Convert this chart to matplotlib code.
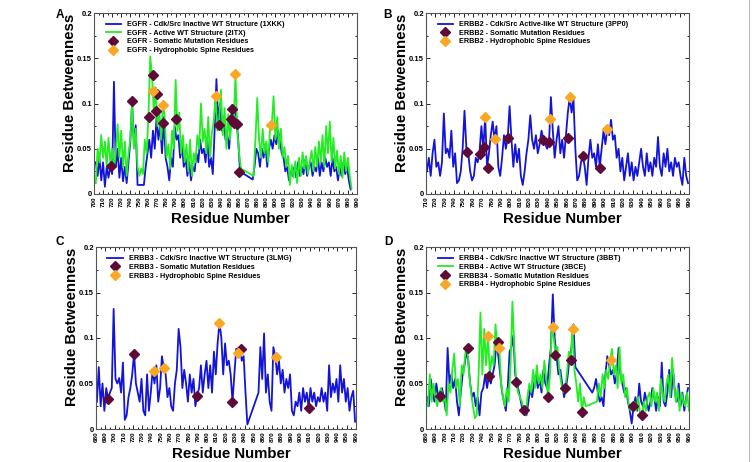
import numpy as np
import matplotlib
matplotlib.use("Agg")
import matplotlib.pyplot as plt
from matplotlib.lines import Line2D
from matplotlib.ticker import MultipleLocator, FixedLocator

plt.rcParams['font.family'] = ['Liberation Sans', 'DejaVu Sans']

# ---------------- Panel A : EGFR ----------------
a_blue_res = np.r_[np.arange(702, 749, 2), np.arange(755, 862, 2), np.arange(875, 984, 2)]
a_blue_val = [
    0.035, 0.02, 0.04, 0.015, 0.035, 0.008, 0.03, 0.018, 0.031, 0.022,
    0.124, 0.03, 0.05, 0.018, 0.04, 0.014, 0.03, 0.012, 0.035, 0.058,
    0.1, 0.055, 0.076, 0.01,
    0.01, 0.03, 0.045, 0.06, 0.04, 0.07, 0.05, 0.085, 0.06, 0.075,
    0.045, 0.085, 0.04, 0.03, 0.015, 0.04, 0.03, 0.075, 0.06, 0.065,
    0.04, 0.055, 0.03, 0.04, 0.02, 0.035, 0.015, 0.03, 0.025, 0.045,
    0.035, 0.06, 0.045, 0.05, 0.035, 0.06, 0.03, 0.04, 0.022, 0.07,
    0.127, 0.08, 0.1, 0.07, 0.085, 0.06, 0.065, 0.05, 0.08, 0.09,
    0.095, 0.085, 0.06, 0.025,
    0.016, 0.03, 0.05, 0.045, 0.03, 0.05, 0.04, 0.055, 0.03, 0.05,
    0.06, 0.05, 0.065, 0.055, 0.07, 0.06, 0.045, 0.04, 0.025, 0.03,
    0.015, 0.025, 0.02, 0.03, 0.018, 0.035, 0.02, 0.03, 0.022, 0.038,
    0.02, 0.03, 0.035, 0.02, 0.03, 0.025, 0.04, 0.02, 0.035, 0.025,
    0.04, 0.03, 0.035, 0.02, 0.04, 0.025, 0.03, 0.015, 0.03, 0.02,
    0.035, 0.022, 0.03, 0.015, 0.005]
a_green_res = np.r_[np.arange(702, 863, 2), np.arange(876, 985, 2)]
a_green_val = [
    0.012, 0.05, 0.035, 0.065, 0.04, 0.058, 0.03, 0.062, 0.035, 0.05,
    0.028, 0.045, 0.077, 0.04, 0.07, 0.03, 0.058, 0.02, 0.045, 0.06,
    0.103, 0.05, 0.072, 0.03, 0.02, 0.028, 0.022, 0.06, 0.045, 0.085,
    0.152, 0.13, 0.09, 0.118, 0.075, 0.092, 0.06, 0.1, 0.085, 0.04,
    0.055, 0.028, 0.07, 0.05, 0.126, 0.07, 0.09, 0.045, 0.065, 0.035,
    0.055, 0.025, 0.06, 0.02, 0.045, 0.035, 0.065, 0.05, 0.1, 0.058,
    0.072, 0.045, 0.085, 0.04, 0.068, 0.08, 0.108, 0.07, 0.082, 0.115,
    0.065, 0.095, 0.05, 0.088, 0.06, 0.098, 0.075, 0.133, 0.07, 0.045,
    0.028,
    0.02, 0.06, 0.106, 0.06, 0.04, 0.072, 0.045, 0.058, 0.035, 0.07,
    0.076, 0.108, 0.06, 0.085, 0.05, 0.072, 0.04, 0.052, 0.03, 0.042,
    0.01, 0.032, 0.018, 0.036, 0.012, 0.04, 0.02, 0.046, 0.028, 0.042,
    0.022, 0.036, 0.048, 0.025, 0.052, 0.03, 0.058, 0.035, 0.065, 0.03,
    0.075, 0.045, 0.08, 0.035, 0.062, 0.028, 0.048, 0.022, 0.042, 0.018,
    0.046, 0.025, 0.04, 0.02, 0.006]
a_mut_res = [719, 742, 761, 765, 768, 769, 776, 790, 838, 851, 852, 854, 858, 860]
a_mut_val = [0.031, 0.103, 0.085, 0.131, 0.092, 0.111, 0.078, 0.083, 0.076, 0.083,
             0.094, 0.079, 0.077, 0.024]
a_spine_res = [765.5, 776.5, 834.6, 855.5, 895.6]
a_spine_val = [0.114, 0.098, 0.108, 0.133, 0.076]

# ---------------- Panel B : ERBB2 ----------------
b_blue_res = np.arange(711, 990, 2)
b_blue_val = [
    0.025, 0.04, 0.02, 0.045, 0.06, 0.03, 0.035, 0.02, 0.035, 0.089,
    0.045, 0.05, 0.04, 0.07, 0.03, 0.045, 0.012, 0.015, 0.025, 0.05,
    0.092, 0.05, 0.045, 0.025, 0.015, 0.02, 0.04, 0.035, 0.047, 0.075,
    0.05, 0.085, 0.03, 0.045, 0.065, 0.08, 0.06, 0.075, 0.03, 0.02,
    0.04, 0.065, 0.05, 0.062, 0.097, 0.06, 0.03, 0.055, 0.035, 0.05,
    0.02, 0.01, 0.025, 0.045, 0.06, 0.087, 0.06, 0.05, 0.065, 0.045,
    0.055, 0.07, 0.06, 0.055, 0.05, 0.058, 0.107, 0.07, 0.04, 0.06,
    0.075, 0.045, 0.06, 0.04, 0.065, 0.09, 0.107, 0.09, 0.105, 0.05,
    0.015, 0.02, 0.035, 0.042, 0.03, 0.01, 0.04, 0.06, 0.04, 0.045,
    0.03, 0.055, 0.03, 0.05, 0.07, 0.055, 0.072, 0.065, 0.082, 0.06,
    0.065, 0.04, 0.05, 0.025, 0.04, 0.015, 0.03, 0.045, 0.02, 0.035,
    0.015, 0.03, 0.02, 0.035, 0.05, 0.03, 0.02, 0.045, 0.025, 0.035,
    0.02, 0.04, 0.03, 0.063, 0.03, 0.02, 0.045, 0.03, 0.05, 0.025,
    0.035, 0.02, 0.04, 0.03, 0.035, 0.02, 0.01, 0.04, 0.02, 0.012]
b_mut_res = [754, 767.6, 772, 776.2, 796.8, 834.2, 841.3, 860.9, 877.2, 895]
b_mut_val = [0.0465, 0.0447, 0.0524, 0.0284, 0.0624, 0.0598, 0.057, 0.0616, 0.042, 0.029]
b_spine_res = [773, 783.6, 842, 863, 902.8]
b_spine_val = [0.0856, 0.0605, 0.0827, 0.107, 0.072]

# ---------------- Panel C : ERBB3 ----------------
c_blue_res = np.r_[np.arange(681, 844, 2), np.arange(855, 960, 2)]
c_blue_val = [
    0.03, 0.068, 0.025, 0.05, 0.02, 0.045, 0.033, 0.04, 0.045, 0.132,
    0.055, 0.05, 0.056, 0.04, 0.073, 0.01, 0.015, 0.035, 0.045, 0.06,
    0.083, 0.05, 0.04, 0.03, 0.055, 0.02, 0.015, 0.06, 0.02, 0.04,
    0.065, 0.05, 0.07, 0.03, 0.045, 0.08, 0.067, 0.06, 0.035, 0.045,
    0.025, 0.02, 0.05, 0.065, 0.11, 0.09, 0.045, 0.065, 0.05, 0.03,
    0.06, 0.04, 0.055, 0.025, 0.037, 0.045, 0.07, 0.04, 0.06, 0.075,
    0.045, 0.07, 0.04, 0.085, 0.06, 0.095, 0.117, 0.1, 0.06, 0.094,
    0.07, 0.075, 0.06, 0.03, 0.06, 0.088, 0.083, 0.09, 0.075, 0.08,
    0.04, 0.005,
    0.04, 0.09, 0.055, 0.105, 0.04, 0.06, 0.03, 0.02, 0.09, 0.08,
    0.06, 0.075, 0.05, 0.065, 0.04, 0.055, 0.045, 0.06, 0.02, 0.015,
    0.03, 0.025, 0.04, 0.02, 0.045, 0.03, 0.04, 0.023, 0.045, 0.03,
    0.04, 0.025, 0.035, 0.03, 0.045, 0.03, 0.04, 0.02, 0.07, 0.035,
    0.05, 0.04, 0.055, 0.03, 0.07, 0.04, 0.055, 0.03, 0.045, 0.02,
    0.035, 0.042, 0.008]
c_mut_res = [692.6, 720.9, 789.1, 826.5, 835.8, 909.8]
c_mut_val = [0.033, 0.0826, 0.0367, 0.030, 0.088, 0.023]
c_spine_res = [742.1, 753.6, 812.5, 833.3, 873.5]
c_spine_val = [0.0635, 0.0668, 0.1167, 0.0833, 0.0793]

# ---------------- Panel D : ERBB4 ----------------
d_blue_res = np.r_[np.arange(681, 840, 2), np.arange(857, 960, 2)]
d_blue_val = [
    0.035, 0.025, 0.055, 0.04, 0.03, 0.05, 0.035, 0.03, 0.045, 0.035,
    0.02, 0.089, 0.05, 0.06, 0.045, 0.055, 0.03, 0.015, 0.04, 0.06,
    0.07, 0.085, 0.075, 0.05, 0.035, 0.04, 0.025, 0.035, 0.015, 0.04,
    0.045, 0.06, 0.045, 0.058, 0.05, 0.06, 0.07, 0.095, 0.08, 0.06,
    0.04, 0.03, 0.02, 0.045, 0.085, 0.09, 0.103, 0.06, 0.05, 0.04,
    0.03, 0.02, 0.025, 0.015, 0.03, 0.045, 0.035, 0.05, 0.06, 0.045,
    0.055, 0.04, 0.065, 0.05, 0.045, 0.07, 0.09, 0.148, 0.1, 0.08,
    0.06, 0.065, 0.05, 0.035, 0.045, 0.06, 0.08, 0.09, 0.115, 0.068,
    0.04, 0.045, 0.055, 0.04, 0.03, 0.035, 0.025, 0.06, 0.08, 0.07,
    0.06, 0.065, 0.05, 0.06, 0.089, 0.06, 0.05, 0.04, 0.045, 0.03,
    0.02, 0.006, 0.025, 0.035, 0.02, 0.05, 0.03, 0.025, 0.04, 0.03,
    0.02, 0.03, 0.045, 0.035, 0.02, 0.035, 0.025, 0.073, 0.03, 0.025,
    0.04, 0.065, 0.035, 0.065, 0.04, 0.03, 0.05, 0.025, 0.04, 0.02,
    0.035, 0.045]
d_green_res = np.r_[np.arange(682, 851, 2), np.arange(862, 961, 2)]
d_green_val = [
    0.025, 0.06, 0.03, 0.05, 0.035, 0.025, 0.04, 0.045, 0.03, 0.035,
    0.015, 0.05, 0.04, 0.065, 0.083, 0.045, 0.055, 0.025, 0.07, 0.06,
    0.085, 0.09, 0.06, 0.04, 0.025, 0.012, 0.015, 0.06, 0.128, 0.06,
    0.11, 0.07, 0.102, 0.06, 0.08, 0.07, 0.115, 0.09, 0.089, 0.05,
    0.035, 0.025, 0.045, 0.03, 0.07, 0.14, 0.09, 0.052, 0.04, 0.035,
    0.03, 0.021, 0.015, 0.035, 0.05, 0.04, 0.065, 0.045, 0.07, 0.05,
    0.06, 0.045, 0.075, 0.055, 0.035, 0.06, 0.112, 0.1, 0.082, 0.09,
    0.065, 0.05, 0.04, 0.045, 0.06, 0.085, 0.076, 0.11, 0.065, 0.05,
    0.03, 0.05, 0.018, 0.035, 0.025,
    0.03, 0.05, 0.035, 0.06, 0.045, 0.065, 0.055, 0.076, 0.088, 0.06,
    0.07, 0.045, 0.09, 0.05, 0.06, 0.035, 0.045, 0.025, 0.02, 0.026,
    0.03, 0.02, 0.035, 0.015, 0.015, 0.03, 0.02, 0.035, 0.04, 0.025,
    0.045, 0.03, 0.04, 0.02, 0.055, 0.04, 0.03, 0.05, 0.06, 0.035,
    0.078, 0.05, 0.03, 0.045, 0.02, 0.04, 0.03, 0.025, 0.04, 0.02]
d_mut_res = [694.6, 724.8, 747.2, 756.4, 776.3, 784.1, 810, 817.1, 828.5, 834.9,
             846.3, 900.3, 910.2]
d_mut_val = [0.0359, 0.0894, 0.0586, 0.0952, 0.052, 0.0212, 0.0348, 0.0817, 0.045,
             0.0762, 0.0183, 0.0256, 0.015]
d_spine_res = [746.1, 757.5, 815, 836.3, 876.5]
d_spine_val = [0.1018, 0.089, 0.112, 0.110, 0.0755]

y_ticks = [0, 0.05, 0.1, 0.15, 0.2]
y_ticklabels = ["0", "0.05", "0.1", "0.15", "0.2"]

BLUE = "#1414d8"
GREEN = "#22ee22"
MAROON = "#5e0b38"
ORANGE = "#f9a825"

fig = plt.figure(figsize=(7.54, 4.62), dpi=100)

panels = [
    dict(rect=[94/754, 1-194/462, 263/754, 181/462], letter="A", lpos=(60, 15), xlim=(700, 990),
         lines=[(a_blue_res, a_blue_val, BLUE, "EGFR - Cdk/Src Inactive WT Structure (1XKK)"),
                (a_green_res, a_green_val, GREEN, "EGFR - Active WT Structure (2ITX)")],
         mut=(a_mut_res, a_mut_val, "EGFR - Somatic Mutation Residues"),
         spine=(a_spine_res, a_spine_val, "EGFR - Hydrophobic Spine Residues")),
    dict(rect=[426/754, 1-194/462, 263/754, 181/462], letter="B", lpos=(388, 15), xlim=(710, 990),
         lines=[(b_blue_res, b_blue_val, BLUE, "ERBB2 - Cdk/Src Active-like WT Structure (3PP0)")],
         mut=(b_mut_res, b_mut_val, "ERBB2 - Somatic Mutation Residues"),
         spine=(b_spine_res, b_spine_val, "ERBB2 - Hydrophobic Spine Residues")),
    dict(rect=[96/754, 1-429/462, 260/754, 182/462], letter="C", lpos=(60, 242), xlim=(680, 960),
         lines=[(c_blue_res, c_blue_val, BLUE, "ERBB3 - Cdk/Src Inactive WT Structure (3LMG)")],
         mut=(c_mut_res, c_mut_val, "ERBB3 - Somatic Mutation Residues"),
         spine=(c_spine_res, c_spine_val, "ERBB3 - Hydrophobic Spine Residues")),
    dict(rect=[426/754, 1-429/462, 263/754, 182/462], letter="D", lpos=(388, 242), xlim=(680, 960),
         lines=[(d_blue_res, d_blue_val, BLUE, "ERBB4 - Cdk/Src Inactive WT Structure (3BBT)"),
                (d_green_res, d_green_val, GREEN, "ERBB4 - Active WT Structure (3BCE)")],
         mut=(d_mut_res, d_mut_val, "ERBB34 - Somatic Mutation Residues"),
         spine=(d_spine_res, d_spine_val, "ERBB4 - Hydrophobic Spine Residues")),
]

for p in panels:
    ax = fig.add_axes(p["rect"])
    axw = p["rect"][2] * 754
    axh = p["rect"][3] * 462
    for res, val, col, lab in p["lines"]:
        ax.plot(res, val, color=col, lw=1.3, label=lab, zorder=2)
    mr, mv, ml = p["mut"]
    ax.plot(mr, mv, ls="none", marker="D", ms=5.0, color=MAROON, label=ml, zorder=4)
    sr, sv, sl = p["spine"]
    ax.plot(sr, sv, ls="none", marker="D", ms=5.0, color=ORANGE, label=sl, zorder=4)

    ax.set_xlim(*p["xlim"])
    ax.set_ylim(0, 0.2)
    ax.xaxis.set_major_locator(MultipleLocator(10))
    ax.xaxis.set_minor_locator(MultipleLocator(5))
    ax.yaxis.set_major_locator(FixedLocator(y_ticks))
    ax.yaxis.set_minor_locator(MultipleLocator(0.025))
    ax.set_yticklabels(y_ticklabels, fontsize=5.5, fontweight="bold")
    for t in ax.get_xticklabels():
        t.set_rotation(90)
        t.set_fontsize(4.6)
        t.set_fontweight("bold")
    ax.tick_params(which="both", direction="in", top=True, right=True, width=0.6)
    ax.tick_params(which="major", length=3, pad=1.5)
    ax.tick_params(which="minor", length=1.6)
    for s in ax.spines.values():
        s.set_linewidth(0.8)
        s.set_color("#555555")

    ax.set_ylabel("Residue Betweenness", fontsize=10.8, fontweight="bold")
    ax.set_xlabel("Residue Number", fontsize=10.8, fontweight="bold")
    ax.yaxis.set_label_coords(-17 / axw, 0.56)
    ax.xaxis.set_label_coords(0.52, -18 / axh)

    ax.legend(loc="upper left", bbox_to_anchor=(0.03, 0.975), frameon=False,
              prop={"weight": "bold", "size": 5.2},
              handlelength=2.2, handletextpad=0.8, labelspacing=0.22,
              borderaxespad=0.2, borderpad=0.3)
    fig.text(p["lpos"][0] / 754, 1 - p["lpos"][1] / 462, p["letter"],
             fontsize=8.5, fontweight="bold", ha="center", va="center")

fig.add_artist(Line2D([749/754, 749/754], [0, 1], color="#bbbbbb", lw=0.8))

fig.savefig("out.png", dpi=100)
